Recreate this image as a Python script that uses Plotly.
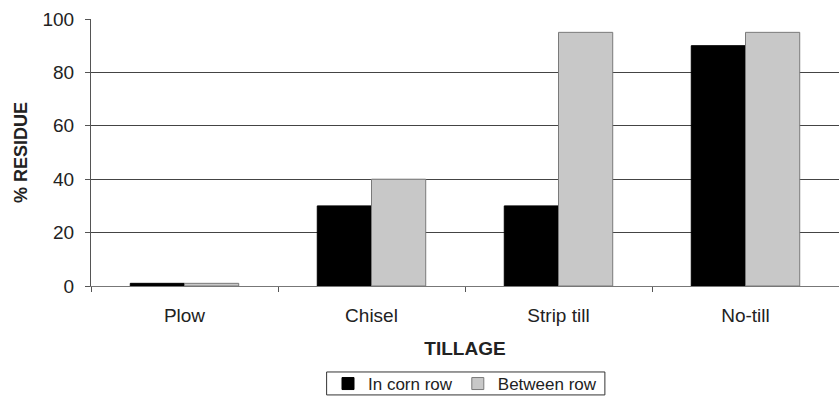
import plotly.graph_objects as go

categories = ["Plow", "Chisel", "Strip till", "No-till"]
in_corn_row = [1, 30, 30, 90]
between_row = [1, 40, 95, 95]
y_ticks = [0, 20, 40, 60, 80, 100]

FONT = "Liberation Sans, Arial, sans-serif"
TEXT = "#222222"

fig = go.Figure()
fig.add_trace(go.Bar(
    x=categories, y=in_corn_row, name="In corn row",
    marker=dict(color="#000000", line=dict(color="#000000", width=1)),
))
fig.add_trace(go.Bar(
    x=categories, y=between_row, name="Between row",
    marker=dict(color="#c8c8c8", line=dict(color="#7a7a7a", width=1)),
))

fig.update_layout(
    width=839, height=396,
    margin=dict(l=91, r=0, t=19, b=110, autoexpand=False),
    paper_bgcolor="white", plot_bgcolor="white",
    barmode="group", bargap=0.42, bargroupgap=0,
    font=dict(family=FONT, size=19, color=TEXT),
    legend=dict(
        orientation="h", x=0.5, xanchor="center", y=-0.367, yanchor="middle",
        borderwidth=0, bgcolor="rgba(0,0,0,0)",
        font=dict(size=17, color=TEXT), itemwidth=30,
        tracegroupgap=0,
    ),
    showlegend=True,
    # thin frame around the legend row
    shapes=[dict(
        type="rect", xref="paper", yref="paper",
        x0=0.315, x1=0.687, y0=-0.408, y1=-0.322,
        line=dict(color="#333333", width=1), fillcolor="rgba(0,0,0,0)",
        layer="below",
    )],
)

fig.update_xaxes(
    automargin=False,
    showline=True, linecolor="#777777", linewidth=1,
    ticks="outside", tickson="boundaries", ticklen=5, tickcolor="#555555",
    ticklabelstandoff=12,
    title=dict(text="<b>TILLAGE</b>", font=dict(size=19, color=TEXT), standoff=16),
    showgrid=False,
)
fig.update_yaxes(
    automargin=False,
    range=[0, 100], tickvals=y_ticks,
    showline=True, linecolor="#555555", linewidth=1,
    ticks="outside", ticklen=5, tickcolor="#555555",
    ticklabelstandoff=7,
    showgrid=True, gridcolor="#444444", gridwidth=1,
    zeroline=False,
    title=dict(text="<b>% RESIDUE</b>", font=dict(size=18, color=TEXT), standoff=10),
)

fig.write_html("out.html")
